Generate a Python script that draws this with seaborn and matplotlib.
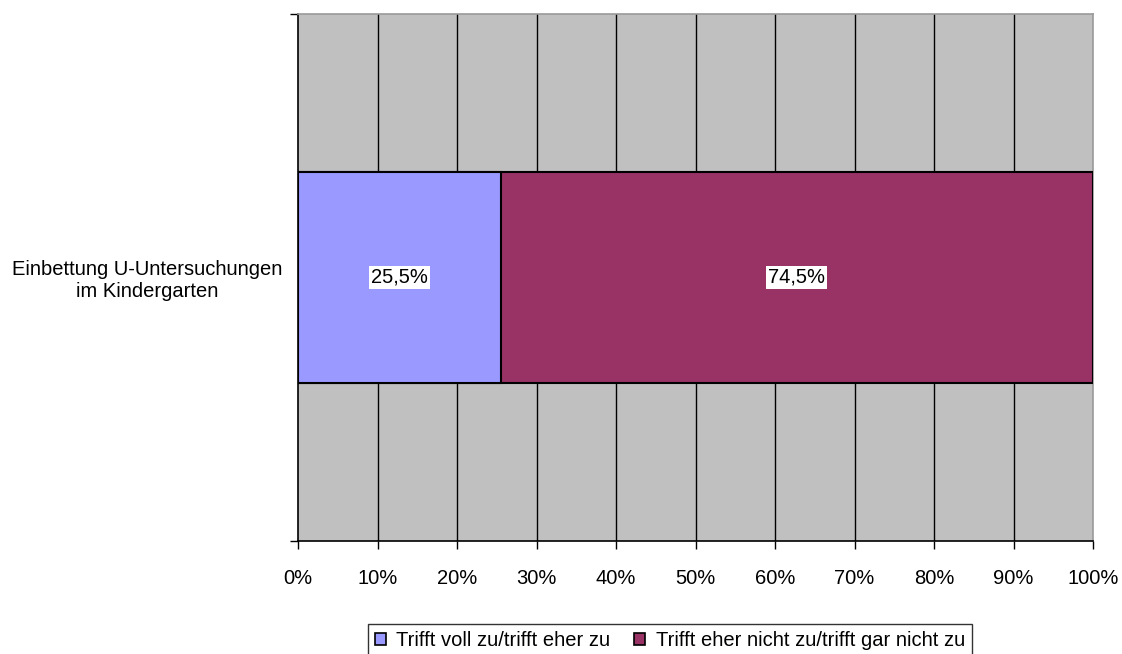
import matplotlib
matplotlib.use("Agg")
import matplotlib.pyplot as plt
import pandas as pd
import seaborn as sns
from matplotlib.patches import Patch

# chart data
category = ["Einbettung U-Untersuchungen\nim Kindergarten"]
series_names = ["Trifft voll zu/trifft eher zu", "Trifft eher nicht zu/trifft gar nicht zu"]
series_values = [25.5, 74.5]
series_colors = ["#9999FF", "#993366"]
x_ticks = [0, 10, 20, 30, 40, 50, 60, 70, 80, 90, 100]

sns.set_style("white")
plt.rcParams["font.family"] = ["Liberation Sans", "DejaVu Sans"]
plt.rcParams["text.color"] = "black"
plt.rcParams["xtick.color"] = "black"
plt.rcParams["ytick.color"] = "black"
FS = 14.5

fig = plt.figure(figsize=(11.22, 6.54), dpi=100)
ax = fig.add_axes([0.2656, 0.1728, 0.7086, 0.8058])
ax.set_facecolor("#C0C0C0")

# stacked bars: draw cumulative totals from largest to smallest
df = pd.DataFrame({"cat": category * len(series_values),
                   "series": series_names,
                   "value": series_values})
df["cum"] = df["value"].cumsum()
df["start"] = df["cum"] - df["value"]

for i in reversed(range(len(df))):
    row = df.iloc[[i]]
    sns.barplot(data=row, x="cum", y="cat", orient="h", color=series_colors[i],
                width=0.4, edgecolor="black", linewidth=1.5, saturation=1, ax=ax,
                zorder=3)

for _, row in df.iterrows():
    ax.text(row["start"] + row["value"] / 2, 0, f"{row['value']:.1f}%".replace(".", ","),
            ha="center", va="center", fontsize=FS, color="black", zorder=5,
            bbox=dict(facecolor="white", edgecolor="none", pad=1.5))

ax.set_xlim(0, 100)
ax.set_ylim(0.5, -0.5)
ax.set_xticks(x_ticks)
ax.set_xticklabels([f"{t}%" for t in x_ticks], fontsize=FS)
for t in x_ticks[1:-1]:
    ax.axvline(t, color="black", linewidth=1, zorder=1)

ax.set_yticks([0])
ax.set_yticklabels(category, fontsize=FS, multialignment="center")
ax.set_yticks([-0.5, 0.5], minor=True)
ax.tick_params(axis="y", which="major", length=0, pad=11)
ax.tick_params(axis="y", which="minor", length=6, width=1, color="black", direction="out", left=True)
ax.tick_params(axis="x", length=6, width=1, color="black", direction="out", bottom=True, pad=14)
ax.set_xlabel("")
ax.set_ylabel("")

for side in ["left", "bottom"]:
    ax.spines[side].set_color("black")
    ax.spines[side].set_linewidth(1.2)
for side in ["top", "right"]:
    ax.spines[side].set_color("#999999")
    ax.spines[side].set_linewidth(1.2)

handles = [Patch(facecolor=c, edgecolor="black", linewidth=1.2) for c in series_colors]
leg = fig.legend(handles, series_names, loc="upper center", bbox_to_anchor=(0.597, 0.046),
                 ncol=2, fontsize=FS, frameon=True, fancybox=False, handlelength=0.55,
                 handleheight=0.55, handletextpad=0.5, columnspacing=1.2, borderpad=0.35,
                 borderaxespad=0)
leg.get_frame().set_edgecolor("black")
leg.get_frame().set_linewidth(1)

fig.savefig("out.png", dpi=100)
